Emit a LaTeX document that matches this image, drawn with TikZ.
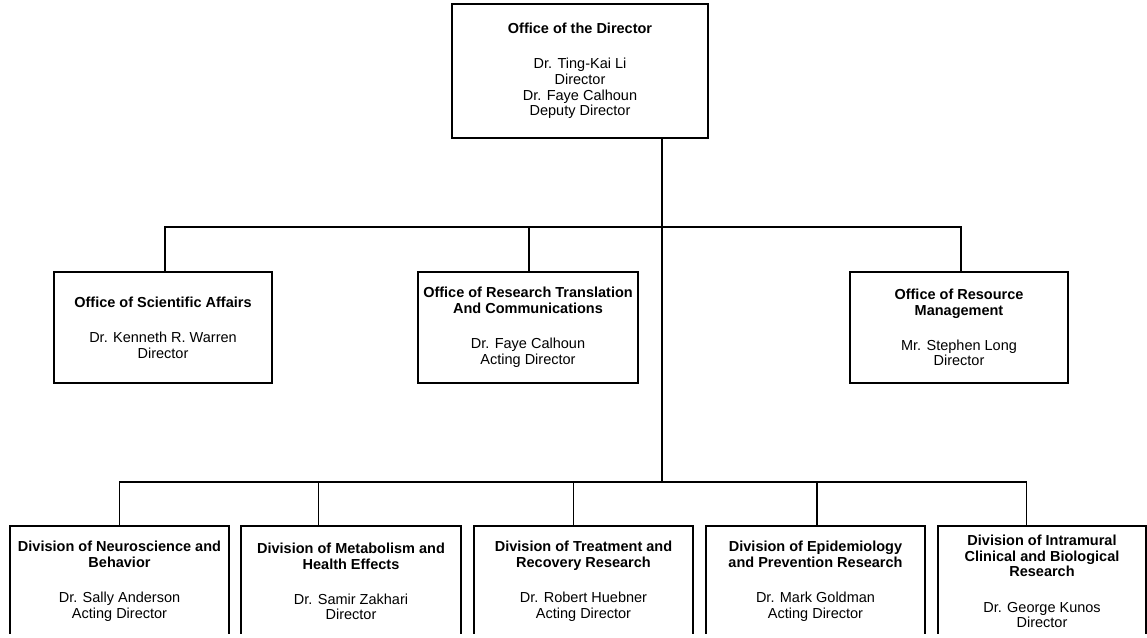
\documentclass[tikz,border=0pt]{standalone}
\usepackage{fontspec}
\setmainfont{Liberation Sans}
\usetikzlibrary{positioning}

\tikzset{
  orgbox/.style={draw, line width=1.5pt, align=center, inner sep=0pt,
    minimum width=219pt, minimum height=111pt,
    font=\fontsize{14.5}{15.7}\selectfont},
  link/.style={line width=1.5pt},
}
\newcommand{\headgap}{\\[19.5pt]}

\begin{document}
\begin{tikzpicture}[x=1pt, y=-1pt]
    \useasboundingbox (0,0) rectangle (1147,637);
    \clip (0,0) rectangle (1147,633);

    \node[orgbox, minimum width=256pt, minimum height=134pt] (dir) at (580,71)
      {\textbf{Office of the Director}\headgap Dr. Ting-Kai Li\\Director\\Dr. Faye Calhoun\\Deputy Director};

    \node[orgbox, minimum width=218pt] (osa) at (163,327.5)
      {\textbf{Office of Scientific Affairs}\headgap Dr. Kenneth R. Warren\\Director};
    \node[orgbox, minimum width=220pt] (ortc) at (528,327.5)
      {\textbf{Office of Research Translation}\\\textbf{And Communications}\headgap Dr. Faye Calhoun\\Acting Director};
    \node[orgbox, minimum width=218pt] (orm) at (959,327.5)
      {\textbf{Office of Resource}\\\textbf{Management}\headgap Mr. Stephen Long\\Director};

    \node[orgbox] (dnb) at (119.5,581.5)
      {\textbf{Division of Neuroscience and}\\\textbf{Behavior}\headgap Dr. Sally Anderson\\Acting Director};
    \node[orgbox, minimum width=220pt] (dmh) at (351,581.5)
      {\textbf{Division of Metabolism and}\\\textbf{Health Effects}\headgap Dr. Samir Zakhari\\Director};
    \node[orgbox] (dtr) at (583.5,581.5)
      {\textbf{Division of Treatment and}\\\textbf{Recovery Research}\headgap Dr. Robert Huebner\\Acting Director};
    \node[orgbox] (dep) at (815.5,581.5)
      {\textbf{Division of Epidemiology}\\\textbf{and Prevention Research}\headgap Dr. Mark Goldman\\Acting Director};
    \node[orgbox, minimum width=208pt] (dicbr) at (1042,581.5)
      {\textbf{Division of Intramural}\\\textbf{Clinical and Biological}\\\textbf{Research}\headgap Dr. George Kunos\\Director};

    \coordinate (bus1) at (662,227);
    \coordinate (bus2) at (662,482);

    \draw[link] (dir.south -| bus1) -- (bus2);
    \draw[link] ([xshift=2pt]osa.north) |- (bus1) -| ([xshift=2pt]orm.north);
    \draw[link] ([xshift=1pt]ortc.north) |- (bus1);

    \draw[link] (dnb.north) |- (bus2) -| ([xshift=89pt]dicbr.north west);
    \draw[link] ([xshift=78pt]dmh.north west) |- (bus2);
    \draw[link] ([xshift=-10pt]dtr.north) |- (bus2);
    \draw[link] ([xshift=1.5pt]dep.north) |- (bus2);
\end{tikzpicture}
\end{document}
